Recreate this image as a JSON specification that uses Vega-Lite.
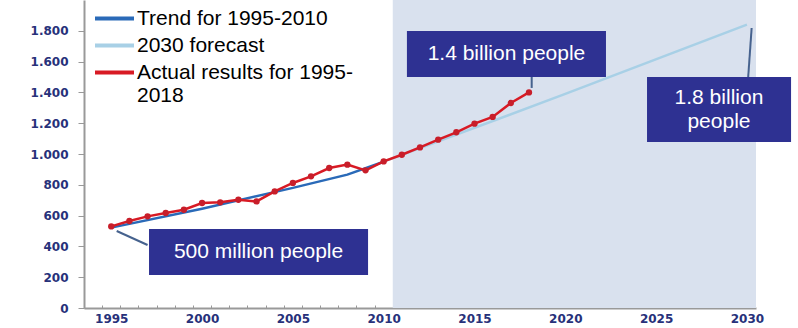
{
  "$schema": "https://vega.github.io/schema/vega-lite/v6.json",
  "width": 672,
  "height": 308,
  "autosize": {"type": "none"},
  "padding": {"left": 84, "top": 0, "right": 42, "bottom": 20},
  "background": "white",
  "config": {
    "view": {"stroke": null},
    "font": "Liberation Sans",
    "axis": {"grid": false, "title": null, "labelOverlap": false, "labelFlush": false, "labelBound": false}
  },
  "resolve": {"axis": {"x": "independent", "y": "independent"}},
  "datasets": {
    "series": [
      {"year": 1995, "value": 522, "series": "Trend for 1995-2010"},
      {"year": 2000, "value": 645, "series": "Trend for 1995-2010"},
      {"year": 2005, "value": 780, "series": "Trend for 1995-2010"},
      {"year": 2008, "value": 866, "series": "Trend for 1995-2010"},
      {"year": 2010, "value": 950, "series": "Trend for 1995-2010"},
      {"year": 2010, "value": 950, "series": "2030 forecast"},
      {"year": 2020, "value": 1390, "series": "2030 forecast"},
      {"year": 2030, "value": 1840, "series": "2030 forecast"},
      {"year": 1995, "value": 530, "series": "Actual results for 1995-2018"},
      {"year": 1996, "value": 565, "series": "Actual results for 1995-2018"},
      {"year": 1997, "value": 595, "series": "Actual results for 1995-2018"},
      {"year": 1998, "value": 617, "series": "Actual results for 1995-2018"},
      {"year": 1999, "value": 638, "series": "Actual results for 1995-2018"},
      {"year": 2000, "value": 682, "series": "Actual results for 1995-2018"},
      {"year": 2001, "value": 686, "series": "Actual results for 1995-2018"},
      {"year": 2002, "value": 703, "series": "Actual results for 1995-2018"},
      {"year": 2003, "value": 692, "series": "Actual results for 1995-2018"},
      {"year": 2004, "value": 757, "series": "Actual results for 1995-2018"},
      {"year": 2005, "value": 812, "series": "Actual results for 1995-2018"},
      {"year": 2006, "value": 855, "series": "Actual results for 1995-2018"},
      {"year": 2007, "value": 909, "series": "Actual results for 1995-2018"},
      {"year": 2008, "value": 931, "series": "Actual results for 1995-2018"},
      {"year": 2009, "value": 894, "series": "Actual results for 1995-2018"},
      {"year": 2010, "value": 952, "series": "Actual results for 1995-2018"},
      {"year": 2011, "value": 995, "series": "Actual results for 1995-2018"},
      {"year": 2012, "value": 1043, "series": "Actual results for 1995-2018"},
      {"year": 2013, "value": 1093, "series": "Actual results for 1995-2018"},
      {"year": 2014, "value": 1141, "series": "Actual results for 1995-2018"},
      {"year": 2015, "value": 1197, "series": "Actual results for 1995-2018"},
      {"year": 2016, "value": 1241, "series": "Actual results for 1995-2018"},
      {"year": 2017, "value": 1331, "series": "Actual results for 1995-2018"},
      {"year": 2018, "value": 1400, "series": "Actual results for 1995-2018"}
    ],
    "band": [{"start": 2010.5, "end": 2030.5}],
    "boxes": [
      {"note": "500 million people", "x1": 1997.08, "x2": 2009.14, "y1": 214, "y2": 513, "tx": 2003.11, "ty": 364},
      {"note": "1.4 billion people", "x1": 2011.28, "x2": 2022.24, "y1": 1500, "y2": 1799, "tx": 2016.76, "ty": 1649},
      {"note": "1.8 billion\npeople", "x1": 2024.5, "x2": 2032.43, "y1": 1078, "y2": 1500, "tx": 2028.46, "ty": 1364}
    ],
    "leaders": [
      {"x1": 1995.3, "y1": 500, "x2": 1997.0, "y2": 409},
      {"x1": 2018.15, "y1": 1500, "x2": 2018.15, "y2": 1429},
      {"x1": 2030.26, "y1": 1818, "x2": 2030.07, "y2": 1500}
    ]
  },
  "layer": [
    {
      "data": {"name": "band"},
      "mark": {"type": "rect", "color": "#d9e1ee"},
      "encoding": {
        "x": {"field": "start", "type": "quantitative", "title": null, "axis": null},
        "x2": {"field": "end"}
      }
    },
    {
      "data": {"name": "series"},
      "mark": {"type": "line", "strokeWidth": 2.5},
      "encoding": {
        "x": {
          "field": "year", "type": "quantitative", "title": null,
          "scale": {"domain": [1993.5, 2030.5], "nice": false, "zero": false},
          "axis": {
            "values": [1994,1995,1996,1997,1998,1999,2000,2001,2002,2003,2004,2005,2006,2007,2008,2009,2010,2011,2012,2013,2014,2015,2016,2017,2018,2019,2020,2021,2022,2023,2024,2025,2026,2027,2028,2029,2030],
            "format": "d",
            "labelExpr": "datum.value % 5 == 0 ? datum.label : ''",
            "labelOverlap": false,
            "tickOffset": -9.08,
            "labelOffset": 9.08,
            "tickSize": -3,
            "tickColor": "#999999",
            "domainColor": "#999999",
            "domainWidth": 2,
            "labelFont": "DejaVu Sans",
            "labelFontWeight": "bold",
            "labelFontSize": 12,
            "labelColor": "#27317a",
            "labelPadding": 8
          }
        },
        "y": {
          "field": "value", "type": "quantitative", "title": null,
          "scale": {"domain": [0, 2000], "nice": false},
          "axis": {
            "values": [0,200,400,600,800,1000,1200,1400,1600,1800],
            "labelExpr": "replace(format(datum.value, ','), ',', '.')",
            "labelOverlap": false,
            "tickSize": 6,
            "tickColor": "#999999",
            "domainColor": "#999999",
            "domainWidth": 2,
            "labelFont": "DejaVu Sans",
            "labelFontWeight": "bold",
            "labelFontSize": 12,
            "labelColor": "#27317a",
            "labelPadding": 10
          }
        },
        "color": {
          "field": "series", "type": "nominal",
          "scale": {
            "domain": ["Trend for 1995-2010", "2030 forecast", "Actual results for 1995-2018"],
            "range": ["#2a6ab8", "#a8d0e6", "#d81a24"]
          },
          "legend": {
            "title": null,
            "orient": "none",
            "legendX": 20,
            "legendY": 8,
            "padding": 0,
            "symbolType": "M-3,0H3",
            "symbolSize": 169,
            "symbolStrokeWidth": 4,
            "labelFont": "Liberation Sans",
            "labelFontSize": 21,
            "labelColor": "#000000",
            "labelOffset": 12,
            "labelLimit": 400,
            "rowPadding": 5,
            "labelExpr": "datum.label == 'Actual results for 1995-2018' ? ['Actual results for 1995-', '2018'] : datum.label"
          }
        },
        "order": {"field": "year", "type": "quantitative"}
      }
    },
    {
      "data": {"name": "series"},
      "transform": [{"filter": "datum.series == 'Actual results for 1995-2018'"}],
      "mark": {"type": "circle", "size": 40, "opacity": 1, "color": "#c81e2a"},
      "encoding": {
        "x": {"field": "year", "type": "quantitative", "title": null, "axis": null},
        "y": {"field": "value", "type": "quantitative", "title": null, "axis": null}
      }
    },
    {
      "data": {"name": "leaders"},
      "mark": {"type": "rule", "color": "#46628e", "strokeWidth": 2},
      "encoding": {
        "x": {"field": "x1", "type": "quantitative", "title": null, "axis": null},
        "y": {"field": "y1", "type": "quantitative", "title": null, "axis": null},
        "x2": {"field": "x2"},
        "y2": {"field": "y2"}
      }
    },
    {
      "data": {"name": "boxes"},
      "mark": {"type": "rect", "color": "#2e3192", "opacity": 1},
      "encoding": {
        "x": {"field": "x1", "type": "quantitative", "title": null, "axis": null},
        "x2": {"field": "x2"},
        "y": {"field": "y1", "type": "quantitative", "title": null, "axis": null},
        "y2": {"field": "y2"}
      }
    },
    {
      "data": {"name": "boxes"},
      "mark": {"type": "text", "color": "#ffffff", "font": "Liberation Sans", "fontSize": 21, "lineBreak": "\n", "lineHeight": 24, "align": "center", "baseline": "middle"},
      "encoding": {
        "x": {"field": "tx", "type": "quantitative", "title": null, "axis": null},
        "y": {"field": "ty", "type": "quantitative", "title": null, "axis": null},
        "text": {"field": "note"}
      }
    }
  ]
}
